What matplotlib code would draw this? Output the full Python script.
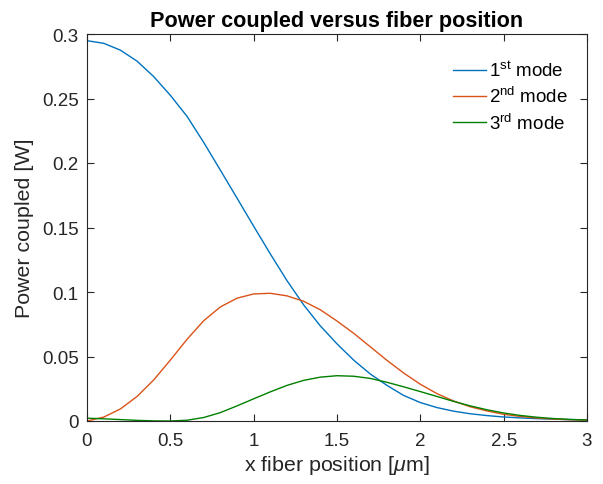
import numpy as np
import matplotlib
matplotlib.use('Agg')
import matplotlib.pyplot as plt

plt.rcParams['font.family'] = ['Liberation Sans', 'DejaVu Sans']
plt.rcParams['mathtext.fontset'] = 'custom'
plt.rcParams['mathtext.rm'] = 'Liberation Sans'
plt.rcParams['mathtext.it'] = 'Liberation Sans:italic'
plt.rcParams['axes.linewidth'] = 0.8
plt.rc('xtick', labelsize=13.5, direction='in')
plt.rc('ytick', labelsize=13.5, direction='in')
plt.rcParams['xtick.top'] = True
plt.rcParams['ytick.right'] = True
plt.rcParams['xtick.major.size'] = 5
plt.rcParams['ytick.major.size'] = 5

# ---------------- data ----------------
x_pos = [0.0, 0.1, 0.2, 0.3, 0.4, 0.5, 0.6, 0.7, 0.8, 0.9,
         1.0, 1.1, 1.2, 1.3, 1.4, 1.5, 1.6, 1.7, 1.8, 1.9,
         2.0, 2.1, 2.2, 2.3, 2.4, 2.5, 2.6, 2.7, 2.8, 2.9, 3.0]

mode1 = [0.2948, 0.2928, 0.2875, 0.2790, 0.2670, 0.2525, 0.2362, 0.2160, 0.1945, 0.1728,
         0.1510, 0.1295, 0.1088, 0.0900, 0.0737, 0.0598, 0.0472, 0.0364, 0.0276, 0.0198,
         0.0143, 0.0104, 0.0076, 0.0056, 0.0042, 0.0031, 0.0024, 0.0018, 0.0014, 0.0011, 0.0008]

mode2 = [0.0, 0.0030, 0.0093, 0.0190, 0.0318, 0.0472, 0.0633, 0.0777, 0.0884, 0.0952,
         0.0985, 0.0990, 0.0970, 0.0928, 0.0862, 0.0775, 0.0680, 0.0575, 0.0470, 0.0372,
         0.0285, 0.0212, 0.0155, 0.0110, 0.0078, 0.0052, 0.0035, 0.0023, 0.0015, 0.0010, 0.0007]

mode3 = [0.0022, 0.0017, 0.0011, 0.0005, 0.0001, 0.0000, 0.0006, 0.0027, 0.0065, 0.0117,
         0.0172, 0.0226, 0.0276, 0.0315, 0.0340, 0.0351, 0.0347, 0.0330, 0.0300, 0.0265,
         0.0228, 0.0190, 0.0152, 0.0117, 0.0087, 0.0062, 0.0043, 0.0029, 0.0019, 0.0012, 0.0008]

labels = [r'1$^{\rm st}$ mode', r'2$^{\rm nd}$ mode', r'3$^{\rm rd}$ mode']
colors = ['#0072BD', '#D95319', '#008000']

fig = plt.figure(figsize=(6.03, 4.85), dpi=100)
ax1 = fig.add_axes([87/603, 63/485, 500/603, 387/485])

for y, lab, c in zip([mode1, mode2, mode3], labels, colors):
    ax1.plot(x_pos, y, color=c, lw=1.0, label=lab)

ax1.set_xlim(0, 3)
ax1.set_ylim(0, 0.3)
ax1.set_xticks([0, 0.5, 1, 1.5, 2, 2.5, 3])
ax1.set_xticklabels(['0', '0.5', '1', '1.5', '2', '2.5', '3'])
ax1.set_yticks([0, 0.05, 0.1, 0.15, 0.2, 0.25, 0.3])
ax1.set_yticklabels(['0', '0.05', '0.1', '0.15', '0.2', '0.25', '0.3'])
for s in ax1.spines.values():
    s.set_color('#262626')
ax1.tick_params(colors='#262626')
ax1.tick_params(axis='x', pad=8)
ax1.tick_params(axis='y', pad=6)

ax1.set_xlabel(r'x fiber position [$\mu$m]', fontsize=15.4, color='#262626', labelpad=3)
ax1.set_ylabel('Power coupled [W]', fontsize=15.4, color='#262626', labelpad=6)
ax1.set_title('Power coupled versus fiber position', fontsize=15.6,
              fontweight='bold', pad=6)

ax1.legend(loc='upper right', bbox_to_anchor=(0.995, 0.975), frameon=False,
           fontsize=13.5, handlelength=1.75, handletextpad=0.15, labelspacing=0.33)

fig.savefig('out.png', dpi=100)
